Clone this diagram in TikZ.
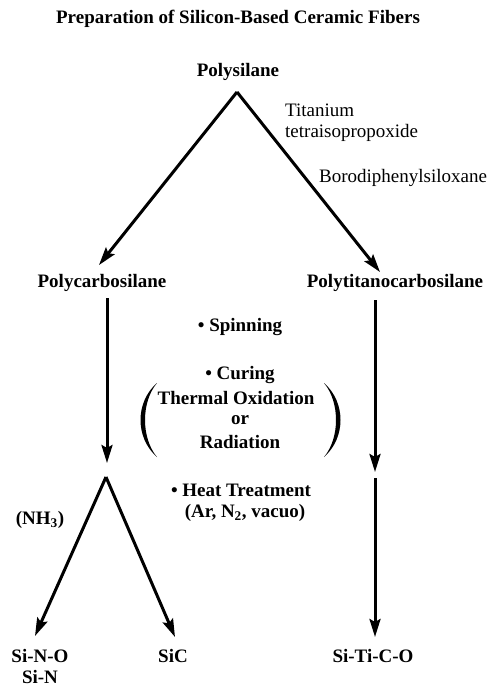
\documentclass[tikz,border=0pt]{standalone}
\usepackage{fontspec}
\setmainfont{Liberation Serif}
\usetikzlibrary{arrows.meta}
\begin{document}
\begin{tikzpicture}[x=1pt,y=-1pt,
  lbl/.style={font=\fontsize{19}{22}\selectfont\bfseries, inner sep=0pt},
  rlbl/.style={font=\fontsize{19}{22}\selectfont, inner sep=0pt, anchor=west},
  conn/.style={line width=3pt, -{Stealth[length=18pt,width=11pt,inset=3pt]}}]
\useasboundingbox (0,0) rectangle (499,688);
\node[lbl] (title) at (238,19) {Preparation of Silicon-Based Ceramic Fibers};
\node[lbl] (ps) at (238,72) {Polysilane};
\node[rlbl] (ti1) at (285,110) {Titanium};
\node[rlbl] (ti2) at (285,133) {tetraisopropoxide};
\node[rlbl] (bor) at (319,178) {Borodiphenylsiloxane};
\node[lbl] (pcs) at (102,283) {Polycarbosilane};
\node[lbl] (ptcs) at (395,283) {Polytitanocarbosilane};
\node[lbl] (spin) at (240,327) {• Spinning};
\node[lbl] (cur) at (240,375) {• Curing};
\node[lbl] (thox) at (236,398) {Thermal Oxidation};
\node[lbl] (or) at (240,420) {or};
\node[lbl] (rad) at (240,442) {Radiation};
\node[lbl] (heat) at (241,490) {• Heat Treatment};
\node[lbl] (atm) at (245,513) {(Ar, N\textsubscript{2}, vacuo)};
\node[lbl] (nh) at (40,520) {(NH\textsubscript{3})};
\node[lbl] (sino) at (40,656) {Si-N-O};
\node[lbl] (sin) at (40,677) {Si-N};
\node[lbl] (sic) at (173,656) {SiC};
\node[lbl] (stco) at (373,656) {Si-Ti-C-O};
% connector points
\coordinate (apex) at (237,92);
\coordinate (tipL) at (99,265);
\coordinate (tipR) at (380,272);
\coordinate (vLs) at (107,298);
\coordinate (vLe) at (107,463);
\coordinate (vRs) at (375,300);
\coordinate (vRe) at (375,472);
\coordinate (vR2s) at (375,478);
\coordinate (vR2e) at (375,637);
\coordinate (apex2) at (106,477);
\coordinate (tipSN) at (35,636);
\coordinate (tipSC) at (175,637);
\draw[conn] (apex) -- (tipL);
\draw[conn] (apex) -- (tipR);
\draw[conn] (vLs) -- (vLe);
\draw[conn] (vRs) -- (vRe);
\draw[conn] (vR2s) -- (vR2e);
\draw[conn] (apex2) -- (tipSN);
\draw[conn] (apex2) -- (tipSC);
% parentheses
\fill (157,383) .. controls (135,402) and (135,438) .. (157,457)
  .. controls (141,438) and (141,402) .. cycle;
\fill (324,383) .. controls (346,402) and (346,438) .. (324,457)
  .. controls (340,438) and (340,402) .. cycle;
\end{tikzpicture}
\end{document}
